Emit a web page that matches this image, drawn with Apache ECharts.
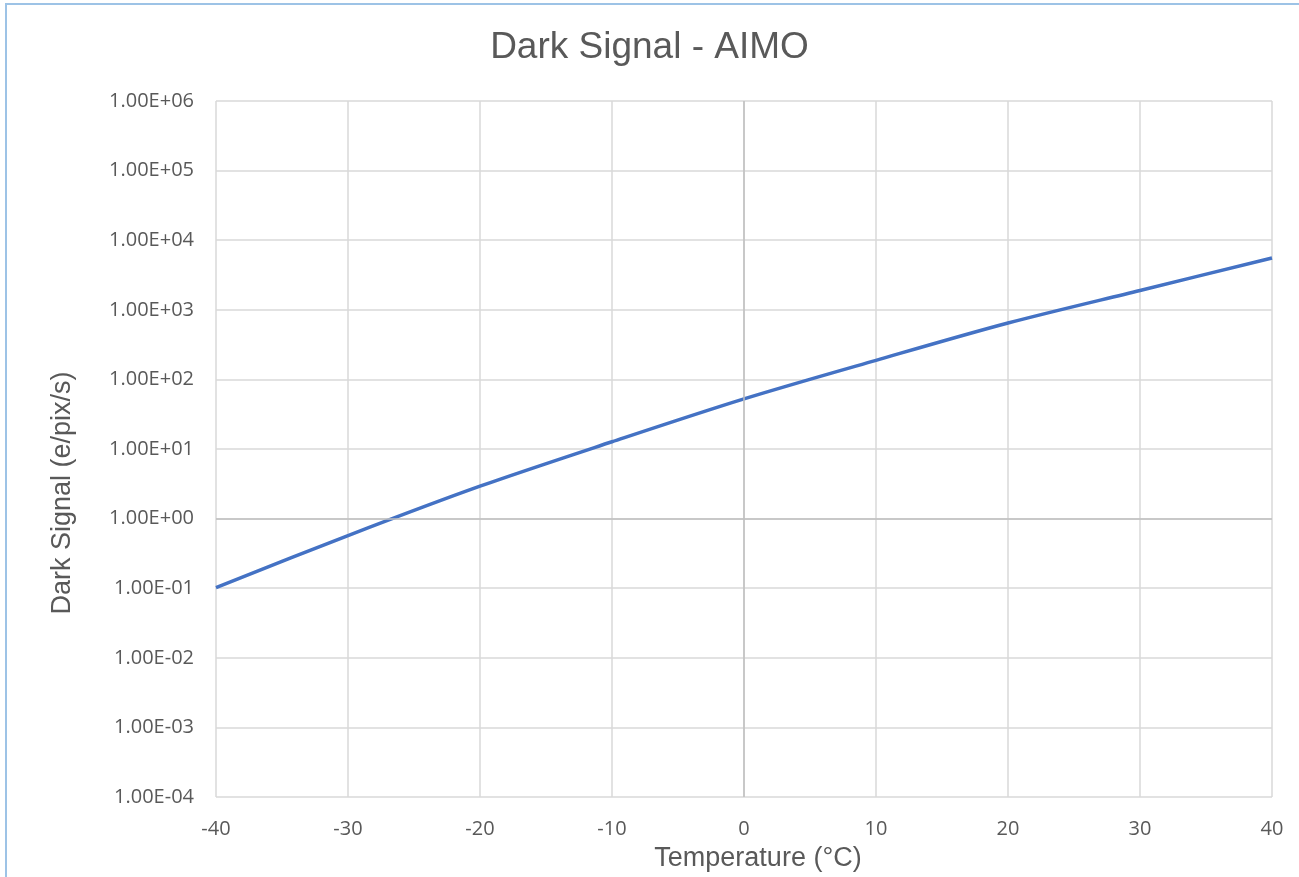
<!DOCTYPE html>
<html>
<head>
<meta charset="utf-8">
<script src="https://cdn.jsdelivr.net/npm/echarts@6/dist/echarts.min.js"></script>
<style>
html,body{margin:0;padding:0;background:#fff;}
#c{width:1299px;height:877px;}
</style>
</head>
<body>
<div id="c"></div>
<script>
const temperatures = [-40, -30, -20, -10, 0, 10, 20, 30, 40];
const darkSignal = [0.102, 0.57, 2.92, 12.7, 52.5, 188, 646, 1897, 5540];
const xTicks = [-40, -30, -20, -10, 0, 10, 20, 30, 40];
const yMin = 1e-4, yMax = 1e6;

function sci(v) {
  const e = Math.round(Math.log10(v));
  const m = v / Math.pow(10, e);
  const s = e < 0 ? '-' : '+';
  const a = Math.abs(e);
  return m.toFixed(2) + 'E' + s + (a < 10 ? '0' + a : '' + a);
}

const chart = echarts.init(document.getElementById('c'), null, {renderer: 'canvas'});
chart.setOption({
  animation: false,
  backgroundColor: '#fff',
  title: {
    text: 'Dark Signal - AIMO',
    left: 'center',
    top: 24,
    textStyle: {fontFamily: 'Liberation Sans', fontSize: 37, fontWeight: 'normal', color: '#595959'}
  },
  graphic: [{
    type: 'polyline',
    shape: {points: [[6, 900], [6, 4], [1310, 4]]},
    style: {stroke: '#9DC3E6', lineWidth: 2, fill: null},
    silent: true
  }],
  grid: {left: 216, right: 27, top: 101, bottom: 79},
  xAxis: {
    type: 'value',
    min: xTicks[0],
    max: xTicks[xTicks.length - 1],
    interval: 10,
    name: 'Temperature (°C)',
    nameLocation: 'middle',
    nameGap: 48,
    nameTextStyle: {fontFamily: 'Liberation Sans', fontSize: 27, color: '#595959', padding: [0, 0, 0, 28]},
    axisLine: {show: false, onZero: false},
    axisTick: {show: false},
    axisLabel: {fontFamily: 'Open Sans', fontSize: 20, color: '#595959', margin: 22},
    splitLine: {show: true, lineStyle: {color: '#D9D9D9', width: 1.5}}
  },
  yAxis: {
    type: 'log',
    logBase: 10,
    min: yMin,
    max: yMax,
    splitNumber: 10,
    name: 'Dark Signal (e/pix/s)',
    nameLocation: 'middle',
    nameGap: 140,
    nameTextStyle: {fontFamily: 'Liberation Sans', fontSize: 27, color: '#595959', padding: [0, 88, 0, 0]},
    axisLine: {show: false, onZero: false},
    axisTick: {show: false},
    axisLabel: {fontFamily: 'Open Sans', fontSize: 20, color: '#595959', margin: 22, formatter: sci},
    splitLine: {show: true, lineStyle: {color: '#D9D9D9', width: 1.5}}
  },
  series: [
    {
      type: 'line',
      z: 1,
      data: [],
      silent: true,
      markLine: {
        silent: true,
        symbol: 'none',
        label: {show: false},
        lineStyle: {color: '#BFBFBF', width: 1.5, type: 'solid'},
        data: [{xAxis: 0}, {yAxis: 1}]
      }
    },
    {
      type: 'line',
      z: 3,
      data: temperatures.map((t, i) => [t, darkSignal[i]]),
      showSymbol: false,
      smooth: 0.3,
      lineStyle: {color: '#4472C4', width: 3.5}
    }
  ]
});
</script>
</body>
</html>
